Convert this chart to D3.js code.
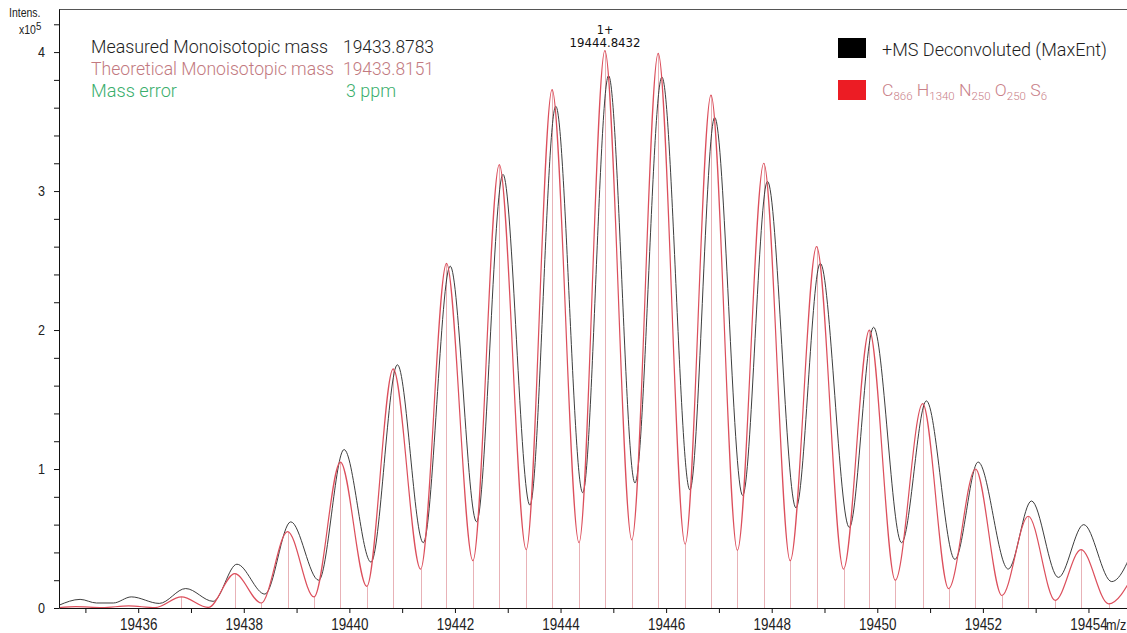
<!DOCTYPE html>
<html>
<head>
<meta charset="utf-8">
<script src="https://cdn.jsdelivr.net/npm/d3@7"></script>
<style>
  html, body { margin: 0; padding: 0; background: #fff; }
  svg { display: block; }
</style>
</head>
<body>
<svg id="chart" width="1127" height="633"></svg>
<script>
// Deconvoluted (MaxEnt) profile, intensity in units of 10^5
const measuredMz = [
  19434.50, 19434.90, 19435.21, 19435.53, 19435.87, 19436.40, 19436.90,
  19437.42, 19437.87, 19438.40, 19438.89, 19439.42, 19439.90, 19440.41,
  19440.91, 19441.40, 19441.91, 19442.41, 19442.91, 19443.42, 19443.91,
  19444.42, 19444.91, 19445.41, 19445.92, 19446.45, 19446.92, 19447.45,
  19447.92, 19448.46, 19448.92, 19449.47, 19449.93, 19450.46, 19450.93,
  19451.47, 19451.91, 19452.48, 19452.92, 19453.43, 19453.91, 19454.44,
  19454.95
];
const measuredIntensity = [
  0.020, 0.062, 0.036, 0.036, 0.080, 0.033, 0.140,
  0.048, 0.315, 0.100, 0.620, 0.200, 1.140, 0.330,
  1.750, 0.470, 2.460, 0.620, 3.120, 0.740, 3.610,
  0.830, 3.830, 0.900, 3.820, 0.850, 3.530, 0.810,
  3.070, 0.720, 2.480, 0.580, 2.020, 0.470, 1.490,
  0.350, 1.050, 0.280, 0.770, 0.220, 0.600, 0.190,
  0.530
];

// Simulated isotope pattern for C866 H1340 N250 O250 S6
const theoreticalMz = [
  19434.50, 19434.82, 19435.32, 19435.82, 19436.32, 19436.82, 19437.33,
  19437.83, 19438.33, 19438.83, 19439.33, 19439.83, 19440.33, 19440.83,
  19441.35, 19441.84, 19442.34, 19442.84, 19443.35, 19443.84, 19444.35,
  19444.84, 19445.35, 19445.85, 19446.36, 19446.85, 19447.35, 19447.85,
  19448.35, 19448.85, 19449.36, 19449.85, 19450.34, 19450.86, 19451.35,
  19451.86, 19452.36, 19452.86, 19453.37, 19453.86, 19454.38, 19454.87
];
const theoreticalIntensity = [
  0.003, 0.010, 0.003, 0.015, 0.003, 0.080, 0.004,
  0.247, 0.036, 0.550, 0.080, 1.050, 0.156, 1.720,
  0.280, 2.480, 0.340, 3.190, 0.420, 3.730, 0.470,
  4.010, 0.490, 3.990, 0.460, 3.690, 0.415, 3.200,
  0.340, 2.600, 0.280, 2.000, 0.200, 1.470, 0.140,
  1.000, 0.090, 0.660, 0.055, 0.420, 0.030, 0.250
];

// Axis ticks
const xTicks = [19435, 19436, 19437, 19438, 19439, 19440, 19441, 19442, 19443, 19444,
                19445, 19446, 19447, 19448, 19449, 19450, 19451, 19452, 19453, 19454];
const xTickLabels = [19436, 19438, 19440, 19442, 19444, 19446, 19448, 19450, 19452, 19454];
const yTicks = [0, 0.2, 0.4, 0.6, 0.8, 1, 1.2, 1.4, 1.6, 1.8, 2, 2.2, 2.4, 2.6, 2.8,
                3, 3.2, 3.4, 3.6, 3.8, 4, 4.2];
const yTickLabels = [0, 1, 2, 3, 4];

// Annotated peak
const peakCharge = "1+";
const peakMz = 19444.8432;

// Header values
const headerRows = [
  { label: "Measured Monoisotopic mass", value: "19433.8783" },
  { label: "Theoretical Monoisotopic mass", value: "19433.8151" },
  { label: "Mass error", value: "3 ppm" }
];

const plot = { left: 59, right: 1127, top: 9, bottom: 608 };

const svg = d3.select("#chart");

const x = d3.scaleLinear().domain([19434.5, 19454.73]).range([plot.left, plot.right]);
const y = d3.scaleLinear().domain([0, 4.31]).range([plot.bottom, plot.top]);

const sans = "'Liberation Sans', Arial, sans-serif";
const light = "Roboto, 'Open Sans', Arial, sans-serif";
const squeeze = 0.84;   // horizontal compression of the axis lettering

svg.append("defs").append("clipPath").attr("id", "plotClip")
  .append("rect")
  .attr("x", plot.left).attr("y", 0)
  .attr("width", plot.right - plot.left).attr("height", plot.bottom);

const measured = measuredMz.map((m, i) => ({ m, v: measuredIntensity[i] }));
const theoretical = theoreticalMz.map((m, i) => ({ m, v: theoreticalIntensity[i] }));

const g = svg.append("g").attr("clip-path", "url(#plotClip)");

// stick lines at the theoretical extrema
g.append("g").selectAll("line")
  .data(theoretical.filter(d => d.v >= 0.025))
  .join("line")
  .attr("x1", d => Math.round(x(d.m)) + 0.5)
  .attr("x2", d => Math.round(x(d.m)) + 0.5)
  .attr("y1", y(0))
  .attr("y2", d => y(d.v))
  .attr("stroke", "#e8b2b7")
  .attr("stroke-width", 1);

const line = d3.line()
  .x(d => x(d.m))
  .y(d => y(d.v))
  .curve(d3.curveMonotoneX);

g.append("path")
  .datum(measured)
  .attr("d", line)
  .attr("fill", "none")
  .attr("stroke", "#333")
  .attr("stroke-width", 0.95);

g.append("path")
  .datum(theoretical)
  .attr("d", line)
  .attr("fill", "none")
  .attr("stroke", "#dc4f5c")
  .attr("stroke-width", 1.2);

// top frame line
svg.append("line")
  .attr("x1", plot.left).attr("x2", plot.right)
  .attr("y1", plot.top + 0.5).attr("y2", plot.top + 0.5)
  .attr("stroke", "#555").attr("stroke-width", 1);

// axes
const xAxis = d3.axisBottom(x)
  .tickValues(xTicks)
  .tickSize(5)
  .tickSizeOuter(0)
  .tickFormat(d => xTickLabels.includes(d) ? String(d) : "");

const gx = svg.append("g")
  .attr("transform", `translate(0,${plot.bottom})`)
  .call(xAxis);
gx.select(".domain").attr("stroke", "#111");
gx.selectAll(".tick line").attr("stroke", "#111");
gx.selectAll(".tick text")
  .attr("font-family", sans)
  .attr("font-size", 16)
  .attr("fill", "#222")
  .attr("dy", null)
  .attr("y", 22)
  .attr("transform", `scale(${squeeze},1)`);

svg.append("text")
  .attr("transform", `translate(1106,${plot.bottom + 22}) scale(${squeeze},1)`)
  .attr("font-family", sans).attr("font-size", 15).attr("fill", "#222")
  .text("m/z");

const yAxis = d3.axisLeft(y)
  .tickValues(yTicks)
  .tickSize(5)
  .tickSizeOuter(0)
  .tickFormat(d => yTickLabels.includes(d) ? String(d) : "");

const gy = svg.append("g")
  .attr("transform", `translate(${plot.left},0)`)
  .call(yAxis);
gy.select(".domain").attr("stroke", "#111");
gy.selectAll(".tick line").attr("stroke", "#111");
gy.selectAll(".tick text")
  .attr("font-family", sans)
  .attr("font-size", 15)
  .attr("fill", "#222")
  .attr("x", -14 / squeeze)
  .attr("transform", `scale(${squeeze},1)`);

// y-axis title
svg.append("text")
  .attr("transform", `translate(9,17) scale(${squeeze},1)`)
  .attr("font-family", sans).attr("font-size", 12.5).attr("fill", "#222")
  .text("Intens.");
const xp = svg.append("text")
  .attr("transform", `translate(19,34) scale(${squeeze},1)`)
  .attr("font-family", sans).attr("font-size", 12.5).attr("fill", "#222");
xp.append("tspan").text("x10");
xp.append("tspan").attr("dy", -4).attr("font-size", 11.5).text("5");

// peak annotation
svg.append("text")
  .attr("x", x(peakMz)).attr("y", 34)
  .attr("text-anchor", "middle")
  .attr("font-family", "'DejaVu Sans Condensed', 'DejaVu Sans', sans-serif")
  .attr("font-size", 12.5).attr("fill", "#111")
  .text(peakCharge);
svg.append("text")
  .attr("x", x(peakMz)).attr("y", 47)
  .attr("text-anchor", "middle")
  .attr("font-family", "'DejaVu Sans Condensed', 'DejaVu Sans', sans-serif")
  .attr("font-size", 12.5).attr("fill", "#111")
  .attr("textLength", 71).attr("lengthAdjust", "spacingAndGlyphs")
  .text(peakMz.toFixed(4));

// header block
const headerColors = ["#1e1e1e", "#c27980", "#3aae6c"];
const headerY = [53, 75, 97];
const labelWidths = [237, 243, 86];
const valueX = [343, 343, 346];
const valueWidths = [91, 91, 50];
headerRows.forEach((r, i) => {
  svg.append("text")
    .attr("x", 91).attr("y", headerY[i])
    .attr("font-family", light).attr("font-weight", 300)
    .attr("font-size", 18).attr("fill", headerColors[i])
    .attr("textLength", labelWidths[i]).attr("lengthAdjust", "spacingAndGlyphs")
    .text(r.label);
  svg.append("text")
    .attr("x", valueX[i]).attr("y", headerY[i])
    .attr("font-family", light).attr("font-weight", 300)
    .attr("font-size", 18).attr("fill", headerColors[i])
    .attr("textLength", valueWidths[i]).attr("lengthAdjust", "spacingAndGlyphs")
    .text(r.value);
});

// legend
svg.append("rect").attr("x", 838).attr("y", 38).attr("width", 28).attr("height", 20).attr("fill", "#000");
svg.append("text")
  .attr("x", 882).attr("y", 56)
  .attr("font-family", light).attr("font-weight", 300)
  .attr("font-size", 18).attr("fill", "#1e1e1e")
  .attr("textLength", 225).attr("lengthAdjust", "spacingAndGlyphs")
  .text("+MS Deconvoluted (MaxEnt)");

svg.append("rect").attr("x", 838).attr("y", 80).attr("width", 28).attr("height", 20).attr("fill", "#ec1c24");
const formula = [["C", "866"], ["H", "1340"], ["N", "250"], ["O", "250"], ["S", "6"]];
const ft = svg.append("text")
  .attr("x", 882).attr("y", 96)
  .attr("font-family", light).attr("font-weight", 300)
  .attr("font-size", 17).attr("fill", "#c98088")
  .attr("textLength", 165).attr("lengthAdjust", "spacingAndGlyphs");
formula.forEach(([el, n], i) => {
  ft.append("tspan").attr("dy", i === 0 ? 0 : -4).text((i === 0 ? "" : " ") + el);
  ft.append("tspan").attr("dy", 4).attr("font-size", 11).text(n);
});
</script>
</body>
</html>
